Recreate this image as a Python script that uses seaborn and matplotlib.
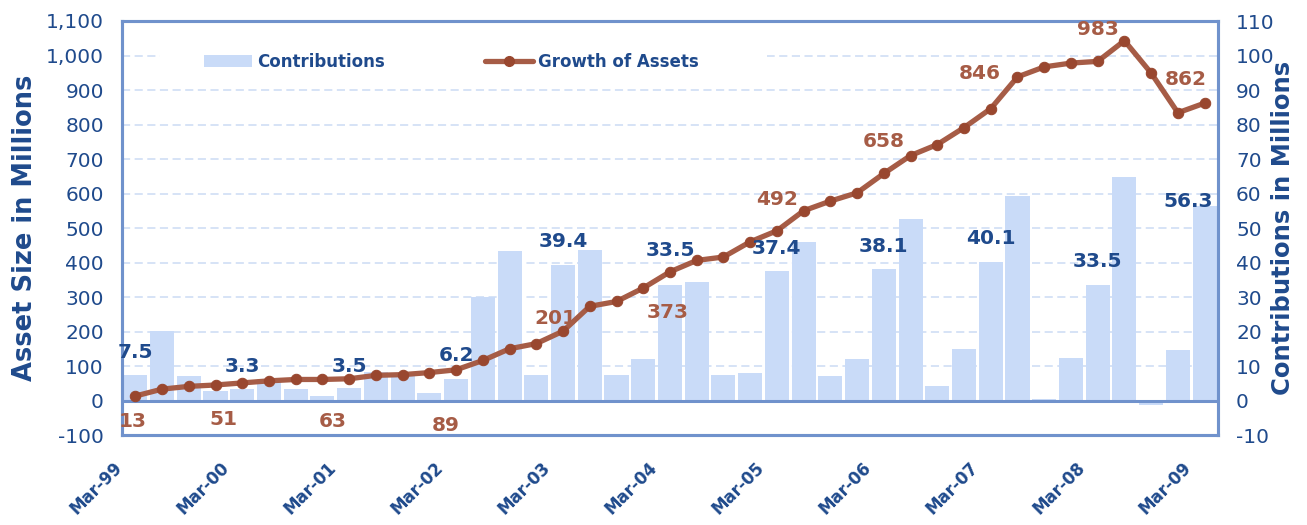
import numpy as np
import matplotlib
matplotlib.use("Agg")
import matplotlib.pyplot as plt
import matplotlib.transforms as mtransforms
from matplotlib.patches import Patch, Rectangle
from matplotlib.lines import Line2D
import seaborn as sns

# quarterly, Mar-99 .. Mar-09
quarters = [f"{m}-{y:02d}" for y in list(range(99, 100)) + list(range(0, 10))
            for m in ("Mar", "Jun", "Sep", "Dec")][:41]

# contributions (right axis, millions)
contrib = [7.5, 20.1, 7.0, 2.7, 3.3, 6.3, 3.2, 1.4, 3.5, 8.2, 7.2, 2.2, 6.2,
           30.0, 43.3, 7.5, 39.4, 43.5, 7.5, 11.9, 33.5, 34.3, 7.5, 8.1, 37.4,
           45.8, 7.0, 12.1, 38.1, 52.5, 4.3, 15.0, 40.1, 59.4, 0.3, 12.4, 33.5,
           64.8, -1.4, 14.7, 56.3]

# asset size (left axis, millions)
assets = [13, 33, 41, 45, 51, 57, 61, 61, 63, 73, 75, 81, 89, 116, 150, 165,
          201, 273, 287, 326, 373, 406, 416, 460, 492, 550, 578, 602, 658, 710,
          742, 791, 846, 938, 967, 978, 983, 1043, 949, 834, 862]

# Mar quarters carry the labels
label_idx = list(range(0, 41, 4))

# label placement (x in quarter units, y in left-axis units)
bar_lbl_xy = [(0, 139), (4, 99), (8, 99), (12, 130), (16, 460), (20, 436),
              (24, 442), (28, 447), (32, 469), (36, 404), (39.4, 576)]
line_lbl_xy = [(-0.1, -61), (3.3, -56), (7.4, -61), (11.6, -71), (15.7, 239),
               (19.9, 256), (24, 583), (28, 752), (31.6, 949), (36, 1075),
               (39.3, 931)]

left_ticks = list(range(-100, 1101, 100))
right_ticks = list(range(-10, 111, 10))

NAVY = "#1F4A8C"
BROWN = "#A65C46"
MARK = "#99472F"
BAR = "#C9DBF8"
EDGE = "#7092CC"
GRID = "#D3E0F6"

sns.set_style("white")
plt.rcParams["font.family"] = ["DejaVu Sans"]

fig = plt.figure(figsize=(13.07, 5.25), dpi=100)
ax = fig.add_axes([0.0933, 0.1714, 0.8386, 0.7886])
ax2 = ax.twinx()

sns.barplot(x=quarters, y=contrib, ax=ax2, color=BAR, saturation=1,
            width=0.9, linewidth=0)
pos = np.arange(len(quarters))
sns.lineplot(x=pos, y=assets, ax=ax, color=BROWN, linewidth=3.8,
             marker="o", markersize=7.5, markerfacecolor=MARK,
             markeredgecolor=MARK)

ax.set_zorder(ax2.get_zorder() + 1)
ax.patch.set_visible(False)

ax.set_xlim(-0.5, len(quarters) - 0.5)
ax.set_ylim(-100, 1100)
ax2.set_ylim(-10, 110)
ax.set_yticks(left_ticks)
ax.set_yticklabels([f"{v:,}" for v in left_ticks])
ax2.set_yticks(right_ticks)
ax2.set_yticklabels([str(v) for v in right_ticks])

ax2.yaxis.grid(True, color=GRID, linestyle=(0, (4.5, 2.5)), linewidth=1.3)
ax2.set_axisbelow(True)
ax.axhline(0, color=EDGE, linewidth=2.2, zorder=1)

ax.set_xticks(label_idx)
ax.set_xticklabels([quarters[i] for i in label_idx], rotation=45, ha="right",
                   rotation_mode="anchor", fontsize=12, fontweight="bold",
                   color=NAVY)
ax.tick_params(axis="x", length=0, pad=12)
shift = mtransforms.ScaledTranslation(-22 / 100, -7 / 100, fig.dpi_scale_trans)
for lbl in ax.get_xticklabels():
    lbl.set_transform(lbl.get_transform() + shift)
ax.tick_params(axis="y", length=0, labelsize=14.5, labelcolor=NAVY, pad=13)
ax2.tick_params(axis="y", length=0, labelsize=14.5, labelcolor=NAVY, pad=13)
ax2.set_xlabel("")

for a in (ax, ax2):
    for s in a.spines.values():
        s.set_color(EDGE)
        s.set_linewidth(2.2)

ax.set_ylabel("Asset Size in Millions", fontsize=18.5, fontweight="bold",
              color=NAVY, labelpad=6)
ax2.set_ylabel("Contributions in Millions", fontsize=17.5, fontweight="bold",
               color=NAVY, labelpad=-3)

for i, (x, y) in zip(label_idx, bar_lbl_xy):
    ax.text(x, y, f"{contrib[i]:.1f}", ha="center", va="center",
            fontsize=14.5, fontweight="bold", color=NAVY, zorder=5)
for i, (x, y) in zip(label_idx, line_lbl_xy):
    ax.text(x, y, f"{assets[i]}", ha="center", va="center",
            fontsize=14.5, fontweight="bold", color=BROWN, zorder=5)

# white block behind the legend
ax.add_patch(Rectangle((160 / 1307, 1 - 75 / 525), 607 / 1307, 24 / 525,
                       transform=fig.transFigure, facecolor="white",
                       edgecolor="none", zorder=0))
handles = [Patch(facecolor=BAR, edgecolor="none"),
           Line2D([], [], color=BROWN, linewidth=3.8, marker="o",
                  markersize=7, markerfacecolor=MARK, markeredgecolor=MARK)]
leg = ax.legend(handles, ["Contributions", "Growth of Assets"], ncol=2,
                loc="center left", bbox_to_anchor=(67 / 1096, 1 - 41 / 414),
                frameon=False, handlelength=2.9, handletextpad=0.3,
                columnspacing=6.0, prop={"weight": "bold", "size": 12})
for t in leg.get_texts():
    t.set_color(NAVY)

fig.savefig("out.png", dpi=100)
